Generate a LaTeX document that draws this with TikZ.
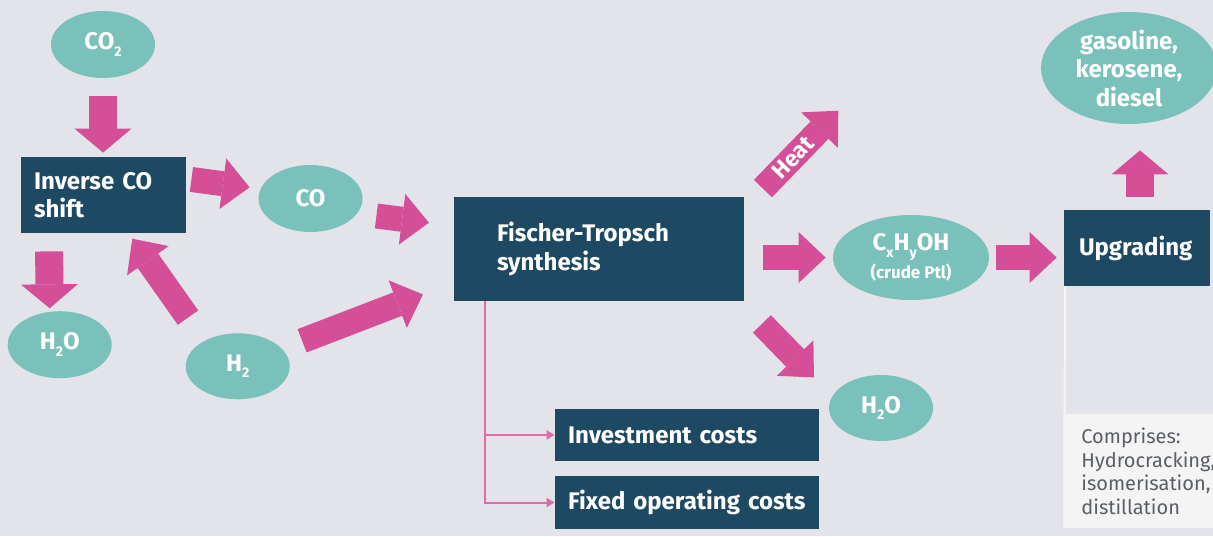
\documentclass[tikz,border=0pt]{standalone}
\usepackage{fontspec}
\setmainfont{Fira Sans}
\usepackage{tikz}
\usetikzlibrary{arrows.meta,shapes.geometric,calc}

\definecolor{bgrey}{HTML}{E3E4E9}
\definecolor{flowpink}{HTML}{D44F97}
\definecolor{linepink}{HTML}{E06AA8}
\definecolor{gasteal}{HTML}{7AC1BC}
\definecolor{stagedark}{HTML}{1E4962}
\definecolor{notegrey}{HTML}{5A5F66}
\definecolor{notewhite}{HTML}{F4F4F5}

\newcommand{\chemsub}[1]{\raisebox{-3.3pt}{\fontsize{7}{7}\selectfont #1}}

\tikzset{
  lbl/.style={font=\bfseries\fontsize{12}{14.25}\selectfont, text=white},
  gas/.style={lbl, ellipse, fill=gasteal, inner sep=0pt, align=center,
    minimum width=52pt, minimum height=33.5pt},
  stage/.style={lbl, rectangle, fill=stagedark, align=left, inner xsep=6.5pt, inner ysep=0pt},
  flow/.style={draw=flowpink, line width=12.5pt,
    -{Triangle[length=13.5pt,width=25.5pt,line width=0pt]}},
  vflow/.style={flow, line width=14pt,
    -{Triangle[length=12pt,width=28.5pt,line width=0pt]}},
  costline/.style={draw=linepink, line width=1pt, -{Triangle[length=4pt,width=4.5pt]}},
  notebox/.style={rectangle, fill=notewhite, text=notegrey, anchor=north west,
    font=\fontsize{10}{11.75}\selectfont, align=left, inner xsep=9pt,
    text width=75pt, minimum height=57pt}
}

\begin{document}
\begin{tikzpicture}[x=0.5pt,y=-0.5pt]
   \path[use as bounding box] (0,0) rectangle (1213,536);
   \clip (0,0) rectangle (1213,536);
   \fill[bgrey] (0,0) rectangle (1213,536);

   \node[gas] (co2) at (103,44.5) {CO\chemsub{2}};
   \node[stage, text width=69.5pt, minimum height=38pt] (inv) at (103.5,195) {Inverse~CO\\shift};
   \node[gas] (h2oL) at (59.7,344.7) {H\chemsub{2}O};
   \node[gas] (co) at (310.5,198.5) {CO};
   \node[gas, minimum height=33pt] (h2) at (237.7,366.3) {H\chemsub{2}};
   \node[stage, inner xsep=21.5pt, text width=102pt, minimum height=52pt] (ft) at (599,249)
      {Fischer-Tropsch\\synthesis};
   \node[gas, minimum width=78pt, minimum height=42.5pt] (cx) at (911,257.5)
      {C\chemsub{x}H\chemsub{y}OH\\[-0.5pt]{\fontsize{8.5}{10}\selectfont(crude Ptl)}};
   \node[gas, minimum height=33pt] (h2oR) at (881,408) {H\chemsub{2}O};
   \node[stage, inner xsep=7.5pt, text width=58pt, minimum height=38pt] (up) at (1137,248) {Upgrading};
   \node[gas, minimum width=88pt, minimum height=56pt] (fuel) at (1129,68) {gasoline,\\kerosene,\\diesel};
   \node[stage, text width=119pt, minimum height=26pt] (invest) at (687,435)
      {Investment~costs};
   \node[stage, text width=119pt, minimum height=26.5pt] (fixed) at (687,502.5)
      {Fixed~operating~costs};
   \node[notebox] (note) at (1063,414) {Comprises:\\Hydrocracking,\\isomerisation,\\distillation};
   \coordinate (heatend) at (838.3,110.7);

   \draw[notewhite, line width=1pt] ($(up.south west)+(1.5,0)$) -- ($(note.north west)+(1.5,0)$);

   \draw[vflow, shorten <=9pt, shorten >=2pt] (co2.south) -- (co2.south |- inv.north);
   \draw[vflow] ($(inv.south west)+(28.5,18)$) -- ($(h2oL.north)+(-10,-2.5)$);
   \draw[flow] ($(inv.east)+(5,-15.5)$) -- ($(co.west)+(-8.5,-11.2)$);
   \draw[flow] ($(h2.north)+(-49.7,-15.3)$) -- ($(inv.south)+(28.8,5.3)$);
   \draw[flow] ($(co.east)+(13.5,17.5)$) -- ($(ft.west)+(-24.7,-26.3)$);
   \draw[flow] ($(h2.east)+(12,-25.5)$) -- ($(ft.south west)+(-30.7,-7)$);
   \draw[flow] ($(ft.north east)+(18.5,-8)$) -- (heatend)
      node[pos=0.4, sloped, lbl, font=\bfseries\fontsize{11.5}{13}\selectfont] {Heat};
   \draw[flow, shorten <=9.5pt, shorten >=3.5pt] (ft.east |- cx.west) -- (cx.west);
   \draw[flow] ($(ft.south east)+(17.5,22.5)$) -- ($(h2oR.north west)+(-30,-7)$);
   \draw[flow, shorten <=3.5pt, shorten >=3.5pt] (cx.east) -- (cx.east -| up.west);
   \draw[vflow] ($(up.north)+(3,-13)$) -- ($(fuel.south)+(11,26)$);

   \draw[costline] ($(ft.south west)+(31,0)$) |- (invest.west);
   \draw[costline] ($(ft.south west)+(31,0)$) |- (fixed.west);
\end{tikzpicture}
\end{document}
